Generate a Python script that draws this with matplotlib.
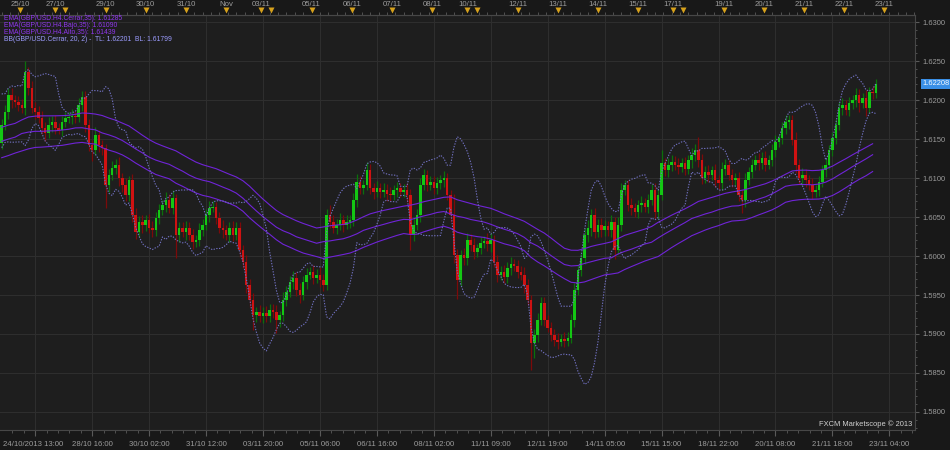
import numpy as np
import pandas as pd
import matplotlib
matplotlib.use("Agg")
import matplotlib.pyplot as plt
import matplotlib.transforms as mtransforms

plt.rcParams['font.family'] = ['Liberation Sans Narrow', 'Liberation Sans', 'DejaVu Sans']

# GBP/USD, 2-hour bars from 24/10/2013 13:00, prices in pips (x 1e-4)
first_open = 16145
closes = [
    16168, 16185, 16206, 16200, 16197, 16194, 16190, 16236, 16215, 16190,
    16185, 16177, 16164, 16158, 16168, 16172, 16164, 16162, 16172, 16177,
    16178, 16180, 16178, 16194, 16204, 16168, 16142, 16136, 16155, 16142,
    16138, 16091, 16104, 16113, 16117, 16100, 16091, 16078, 16097, 16053,
    16031, 16044, 16040, 16046, 16036, 16033, 16049, 16059, 16065, 16072,
    16062, 16074, 16027, 16036, 16031, 16036, 16027, 16018, 16021, 16033,
    16040, 16053, 16062, 16063, 16049, 16036, 16033, 16027, 16036, 16027,
    16036, 16008, 15992, 15963, 15944, 15924, 15928, 15923, 15927, 15923,
    15931, 15928, 15918, 15924, 15944, 15954, 15967, 15972, 15956, 15950,
    15967, 15976, 15980, 15972, 15976, 15969, 15963, 16053, 16044, 16036,
    16040, 16046, 16040, 16044, 16046, 16072, 16095, 16087, 16091, 16110,
    16087, 16082, 16087, 16082, 16085, 16080, 16078, 16085, 16087, 16082,
    16085, 16078, 16027, 16040, 16053, 16091, 16104, 16091, 16095, 16087,
    16093, 16097, 16100, 16078, 16053, 16001, 15969, 16001, 15997, 16021,
    16014, 16005, 16010, 16017, 16019, 16015, 16021, 15992, 15976, 15980,
    15973, 15985, 15990, 15987, 15980, 15976, 15963, 15944, 15889, 15899,
    15918, 15940, 15918, 15908, 15899, 15892, 15890, 15894, 15891, 15895,
    15918, 15956, 15982, 15997, 16027, 16036, 16053, 16031, 16040, 16033,
    16038, 16033, 16044, 16008, 16040, 16085, 16091, 16065, 16062, 16056,
    16065, 16068, 16063, 16072, 16085, 16056, 16078, 16119, 16110, 16117,
    16121, 16117, 16114, 16119, 16112, 16123, 16129, 16136, 16123, 16100,
    16108, 16104, 16110, 16097, 16093, 16112, 16117, 16104, 16097, 16100,
    16078, 16072, 16097, 16108, 16117, 16123, 16119, 16126, 16117, 16123,
    16136, 16146, 16151, 16164, 16172, 16174, 16149, 16117, 16100, 16104,
    16097, 16091, 16082, 16085, 16095, 16110, 16117, 16136, 16151, 16168,
    16190, 16194, 16187, 16196, 16200, 16206, 16196, 16203, 16190, 16210,
    16209, 16220.8,
]
# wick lengths in pips, one base-36 digit per bar
up_wicks = ("789a787e69" "8798a79687" "78698787a6" "76897a7968" "978689787a"
            "7a68797869" "879867a789" "7869786979" "8796a8797a" "78697a87d8"
            "796879a87b" "8796879687" "798a798687" "87967q8798" "79687a8697"
            "879687a768" "9786879687" "79689a7879" "8796a87796" "7968798h79"
            "879687a7h8" "7968798687" "8796879786" "7968977a89" "8796879687"
            "79687986a7" "86")
down_wicks = ("879a687987" "978b798687" "7986898e79" "8u978a987a" "97a8697869"
              "78u97a7968" "879687a798" "798aaj8797" "87h978697a" "7968798687"
              "8796879786" "7968798697" "79j8796878" "87969ao798" "796879a697"
              "879687a7zk" "9786879687" "796879a879" "879c687796" "7968798679"
              "879687a798" "7968798687" "8h96879786" "7968797a89" "8796879687"
              "796879b6a7" "86")
bb_warmup = [16150, 16165, 16190, 16200, 16185, 16195, 16170, 16160, 16150]
ema_seed_high, ema_seed_close, ema_seed_low = 16165, 16147, 16126

sessions = [("2013-10-24 13:00", "2013-10-25 21:00"),
            ("2013-10-27 18:00", "2013-11-01 21:00"),
            ("2013-11-03 18:00", "2013-11-08 21:00"),
            ("2013-11-10 18:00", "2013-11-15 21:00"),
            ("2013-11-17 18:00", "2013-11-23 08:00")]

first_label = "24/10/2013 13:00"
bottom_labels = ["28/10 16:00", "30/10 02:00", "31/10 12:00", "03/11 20:00",
                 "05/11 06:00", "06/11 16:00", "08/11 02:00", "11/11 09:00",
                 "12/11 19:00", "14/11 05:00", "15/11 15:00", "18/11 22:00",
                 "20/11 08:00", "21/11 18:00", "23/11 04:00"]
day_marks = [("25/10", "2013-10-25 00:00"), ("27/10", "2013-10-27 18:00"),
             ("", "2013-10-28 00:00"), ("29/10", "2013-10-29 00:00"),
             ("30/10", "2013-10-30 00:00"), ("31/10", "2013-10-31 00:00"),
             ("Nov", "2013-11-01 00:00"), ("03/11", "2013-11-03 18:00"),
             ("", "2013-11-04 00:00"), ("05/11", "2013-11-05 00:00"),
             ("06/11", "2013-11-06 00:00"), ("07/11", "2013-11-07 00:00"),
             ("08/11", "2013-11-08 00:00"), ("10/11", "2013-11-10 18:00"),
             ("", "2013-11-11 00:00"), ("12/11", "2013-11-12 00:00"),
             ("13/11", "2013-11-13 00:00"), ("14/11", "2013-11-14 00:00"),
             ("15/11", "2013-11-15 00:00"), ("17/11", "2013-11-17 18:00"),
             ("", "2013-11-18 00:00"), ("19/11", "2013-11-19 00:00"),
             ("20/11", "2013-11-20 00:00"), ("21/11", "2013-11-21 00:00"),
             ("22/11", "2013-11-22 00:00"), ("23/11", "2013-11-23 00:00")]

legend_ema = ["EMA(GBP/USD.H4.Cerrar,35): 1.61285",
              "EMA(GBP/USD.H4.Bajo,35): 1.61090",
              "EMA(GBP/USD.H4.Alto,35): 1.61439"]
legend_bb = "BB(GBP/USD.Cerrar, 20, 2) -  TL: 1.62201  BL: 1.61799"
copyright_text = "FXCM Marketscope \u00a9 2013"

BG = "#1e1e1e"
GRID = "#2e2e2e"
AXIS_TXT = "#9c9c9c"


def trading_pos(t):
    t = pd.Timestamp(t)
    total = 0.0
    for a, b in sessions:
        a, b = pd.Timestamp(a), pd.Timestamp(b)
        if t <= a:
            break
        total += (min(t, b) - a).total_seconds() / 3600
    return total


def ema(values, seed, period=35):
    a = 2.0 / (period + 1)
    e = seed
    out = [e]
    for v in values[1:]:
        e = e + a * (v - e)
        out.append(e)
    return np.array(out)


c = np.array(closes, dtype=float) / 1e4
o = np.r_[first_open / 1e4, c[:-1]]
up = np.array([int(ch, 36) for ch in up_wicks]) / 1e4
dn = np.array([int(ch, 36) for ch in down_wicks]) / 1e4
hi = np.maximum(o, c) + up
lo = np.minimum(o, c) - dn
x = 2.0 * np.arange(len(c))  # trading hours since first bar

# H4 series for the EMAs
h4_x = x[0::2]
h4_high = hi.reshape(-1, 2).max(axis=1)
h4_low = lo.reshape(-1, 2).min(axis=1)
h4_close = c.reshape(-1, 2)[:, 1]
ema_close = ema(h4_close, ema_seed_close / 1e4)
ema_high = ema(h4_high, ema_seed_high / 1e4)
ema_low = ema(h4_low, ema_seed_low / 1e4)

# Bollinger bands, 20 hours = 10 bars
s = pd.Series(np.r_[np.array(bb_warmup) / 1e4, c])
mid = s.rolling(10).mean()
sd = s.rolling(10).std(ddof=0)
bb_up = (mid + 2 * sd).values[len(bb_warmup):]
bb_lo = (mid - 2 * sd).values[len(bb_warmup):]

fig = plt.figure(figsize=(9.5, 4.5), dpi=100, facecolor="#181818")
ax = fig.add_axes([0, 20 / 450, 915 / 950, 415 / 450], facecolor=BG)

rising = c >= o
for mask, body, wick in [(rising, "#14c814", "#0b700b"), (~rising, "#d01212", "#7c0a0a")]:
    ax.vlines(x[mask], lo[mask], hi[mask], colors=wick, lw=0.9, zorder=2)
    ax.bar(x[mask], np.maximum(np.abs(c - o)[mask], 0.00003), bottom=np.minimum(o, c)[mask],
           width=1.5, color=body, linewidth=0, zorder=3)

for line in (ema_high, ema_close, ema_low):
    ax.plot(h4_x, line, color="#7024d8", lw=0.8, zorder=4)
ax.plot(x, bb_up, color="#7070c0", lw=0.8, dashes=(1.2, 1.3), zorder=4)
ax.plot(x, bb_lo, color="#7070c0", lw=0.8, dashes=(1.2, 1.3), zorder=4)

ax.set_xlim(-1, 545.3)
ax.set_ylim(1.63 - 408 / 7800, 1.63 + 7 / 7800)

# bottom axis
grid_h = 20 + 34 * np.arange(16)
ax.set_xticks(grid_h, [""] + bottom_labels)
ax.set_xticks(np.arange(20 - 6.8 * 2, 546, 6.8), minor=True)
ax.tick_params(axis="x", which="both", colors="#5a5a5a", labelcolor=AXIS_TXT,
               labelsize=5.6, direction="out", pad=4)
ax.tick_params(axis="x", which="major", length=4)
ax.tick_params(axis="x", which="minor", length=2)
ax.text(0.5, -14 / 415, first_label, transform=mtransforms.blended_transform_factory(ax.transData, ax.transAxes),
        ha="left", va="center", fontsize=5.6, color=AXIS_TXT, clip_on=False)

# right price axis
ax.yaxis.tick_right()
yt = np.arange(1.58, 1.63001, 0.005)
ax.set_yticks(yt, [f"{v:.4f}" for v in yt])
ax.set_yticks(np.arange(1.578, 1.631, 0.001), minor=True)
ax.tick_params(axis="y", which="both", colors="#5a5a5a", labelcolor=AXIS_TXT,
               labelsize=5.4, direction="out", pad=2.5)
ax.tick_params(axis="y", which="major", length=3)
ax.tick_params(axis="y", which="minor", length=1.5)

ax.grid(True, which="major", color=GRID, lw=0.8)
ax.set_axisbelow(True)
ax.spines["left"].set_visible(False)
for side in ("top", "bottom", "right"):
    ax.spines[side].set_color("#474747")
    ax.spines[side].set_linewidth(0.8)

# top date strip
top = ax.secondary_xaxis("top")
mark_x = [trading_pos(t) for _, t in day_marks]
top.set_xticks([p for p, (lab, _) in zip(mark_x, day_marks) if lab],
               [lab for lab, _ in day_marks if lab])
top.set_xticks(np.arange(0, 546, 5), minor=True)
top.tick_params(which="major", length=0, pad=5, labelsize=5.6, labelcolor=AXIS_TXT)
top.tick_params(which="minor", length=2.5, colors="#5a5a5a", direction="out")
top.spines["top"].set_color("#474747")
tb = mtransforms.blended_transform_factory(ax.transData, ax.transAxes)
ax.plot(mark_x, [1 + 5 / 415] * len(mark_x), ls="none", marker="v", ms=3.8,
        color="#d6a11c", mec="none", transform=tb, clip_on=False, zorder=6)
ax.vlines(mark_x, 1.0, 1 + 3 / 415, colors="#111111", lw=0.8, transform=tb, clip_on=False)

# indicator legend
ta = ax.transAxes
for k, txt in enumerate(legend_ema):
    ax.text(4 / 915, (430 - (18.5 + 7 * k)) / 415, txt, transform=ta, ha="left", va="center",
            fontsize=4.9, color="#9036f0")
ax.text(4 / 915, (430 - 39.5) / 415, legend_bb, transform=ta, ha="left", va="center",
        fontsize=4.9, color="#9c9cff")

ax.text(912 / 915, 1.5 / 415, copyright_text, transform=ta, ha="right", va="bottom",
        fontsize=5.4, color="#d0d0d0")

# last price tag
ax.text(1 + 7 / 915, c[-1], f"{c[-1]:.5f}",
        transform=mtransforms.blended_transform_factory(ax.transAxes, ax.transData),
        ha="left", va="center", fontsize=5.4, color="#f4faff", clip_on=False,
        bbox=dict(boxstyle="square,pad=0.2", fc="#3a8fe6", ec="none"))

fig.savefig("out.png", dpi=100, facecolor=fig.get_facecolor())
